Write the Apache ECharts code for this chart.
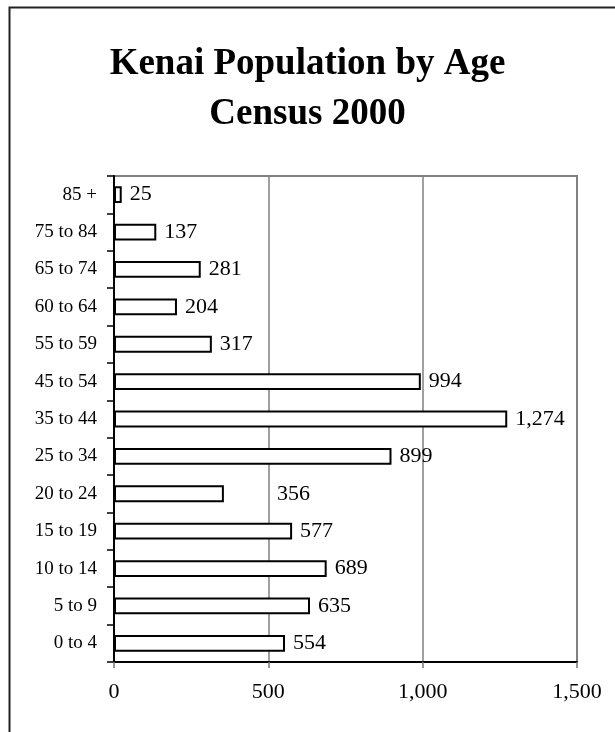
<!DOCTYPE html>
<html>
<head>
<meta charset="utf-8">
<script src="https://cdn.jsdelivr.net/npm/echarts@6/dist/echarts.min.js"></script>
<style>
html,body{margin:0;padding:0;background:#fff;}
#chart{width:615px;height:732px;}
</style>
</head>
<body>
<div id="chart"></div>
<script>
var categories = ['0 to 4','5 to 9','10 to 14','15 to 19','20 to 24','25 to 34','35 to 44','45 to 54','55 to 59','60 to 64','65 to 74','75 to 84','85 +'];
var population = [554, 635, 689, 577, 356, 899, 1274, 994, 317, 204, 281, 137, 25];
var xTicks = [0, 500, 1000, 1500];

var FONT = "'Liberation Serif', 'Times New Roman', serif";
var chart = echarts.init(document.getElementById('chart'));

var barData = population.map(function (v, i) {
  var item = { value: v };
  if (categories[i] === '20 to 24') {
    item.label = { offset: [45, 0] };
  }
  return item;
});

chart.setOption({
  animation: false,
  backgroundColor: '#fff',
  title: {
    text: 'Kenai Population by Age\nCensus 2000',
    left: 'center',
    top: 34,
    textStyle: {
      fontFamily: FONT,
      fontWeight: 'bold',
      fontSize: 37,
      lineHeight: 50,
      color: '#000'
    }
  },
  graphic: [{
    type: 'rect',
    left: 7,
    top: 5,
    shape: { width: 700, height: 800 },
    style: { fill: 'none', stroke: '#222', lineWidth: 2 },
    silent: true,
    z: 100
  }],
  grid: {
    left: 114, top: 176, width: 463, height: 486,
    show: true, borderColor: '#808080', borderWidth: 2,
    containLabel: false
  },
  xAxis: {
    type: 'value',
    min: xTicks[0], max: xTicks[xTicks.length - 1], interval: 500,
    axisLine: { show: true, onZero: false, lineStyle: { color: '#000', width: 2 } },
    axisTick: { show: true, length: 6, lineStyle: { color: '#777', width: 1.5 } },
    splitLine: { show: true, lineStyle: { color: '#808080', width: 1.5 } },
    axisLabel: {
      margin: 19,
      fontFamily: FONT, fontSize: 22, color: '#000',
      formatter: function (v) { return v.toLocaleString('en-US'); }
    }
  },
  yAxis: {
    type: 'category',
    data: categories,
    axisLine: { show: true, lineStyle: { color: '#000', width: 2 } },
    axisTick: { show: true, length: 7, lineStyle: { color: '#000', width: 1.5 } },
    axisLabel: { margin: 17, fontFamily: FONT, fontSize: 19, color: '#000' },
    splitLine: { show: false }
  },
  series: [{
    type: 'bar',
    data: barData,
    barWidth: '45%',
    itemStyle: { color: '#fff', borderColor: '#000', borderWidth: 2 },
    label: {
      show: true,
      position: 'right',
      distance: 8,
      fontFamily: FONT,
      fontSize: 22,
      color: '#000',
      formatter: function (p) { return p.value.toLocaleString('en-US'); }
    }
  }]
});
</script>
</body>
</html>
